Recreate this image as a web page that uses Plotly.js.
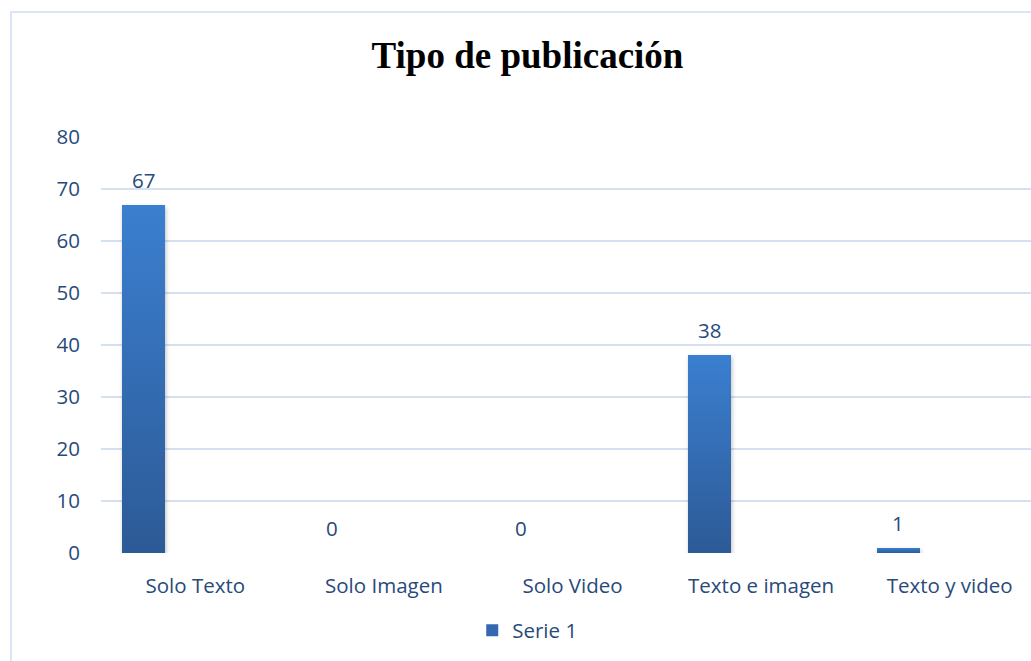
<!DOCTYPE html>
<html>
<head>
<meta charset="utf-8">
<script src="https://cdn.plot.ly/plotly-3.0.1.min.js"></script>
<style>
  html, body { margin: 0; padding: 0; overflow: hidden; background: #fff; }
  #wrap { position: relative; width: 1031px; height: 661px; overflow: hidden; }
  #chart { position: absolute; left: 0; top: 0; }
  #frame { position: absolute; left: 10px; top: 11px; width: 1100px; height: 700px;
           border: 2px solid #dae6f5; pointer-events: none; box-sizing: border-box; }
</style>
</head>
<body>
<div id="wrap">
  <div id="chart"></div>
  <div id="frame"></div>
</div>
<script>
const categories = ["Solo Texto", "Solo Imagen", "Solo Video", "Texto e imagen", "Texto y video"];
const serie1 = [67, 0, 0, 38, 1];
const seriesName = "Serie 1";
const yTicks = [0, 10, 20, 30, 40, 50, 60, 70, 80];

const textColor = "#284a7a";
const font = "'Open Sans', Lato, sans-serif";
const fs = 20.5;

const W = 1060, H = 680;
const plotL = 100.6, plotR = 1044, plotT = 136.7, plotB = 552.7;

const trace = {
  type: "bar",
  x: categories,
  y: serie1,
  name: seriesName,
  marker: { color: "#3468b0" },
  offset: -0.387,
  width: 0.228,
  hoverinfo: "x+y",
  showlegend: true
};

const annotations = categories.map((c, i) => ({
  x: c, y: serie1[i], xref: "x", yref: "y",
  text: String(serie1[i]), showarrow: false,
  xshift: -51.5, yshift: 25, yanchor: "middle",
  font: { family: font, size: fs, color: textColor }
}));

const layout = {
  width: W, height: H,
  margin: { l: plotL, r: W - plotR, t: plotT, b: H - plotB, pad: 0 },
  paper_bgcolor: "rgba(0,0,0,0)",
  plot_bgcolor: "rgba(0,0,0,0)",
  title: {
    text: "<b>Tipo de publicación</b>",
    font: { family: "'Liberation Serif', 'Times New Roman', serif", size: 37, color: "#000" },
    xref: "container", yref: "container",
    x: 527.5 / W, y: 1 - 55 / H, xanchor: "center", yanchor: "middle"
  },
  xaxis: {
    type: "category",
    showgrid: false, zeroline: false, showline: false, ticks: "",
    tickfont: { family: font, size: fs, color: textColor },
    ticklabelstandoff: 18
  },
  yaxis: {
    range: [0, 80],
    tickvals: yTicks,
    showgrid: true, gridcolor: "#d5e1f1", gridwidth: 1.5,
    zeroline: false, showline: false, ticks: "",
    tickfont: { family: font, size: fs, color: textColor },
    ticklabelstandoff: 20
  },
  showlegend: true,
  legend: {
    orientation: "h",
    x: (472 - plotL) / (plotR - plotL), xanchor: "left",
    y: (plotB - 630) / (plotB - plotT), yanchor: "middle",
    font: { family: font, size: fs, color: textColor },
    bgcolor: "rgba(0,0,0,0)"
  },
  annotations: annotations,
  bargap: 0
};

Plotly.newPlot("chart", [trace], layout, { displayModeBar: false, staticPlot: true }).then(gd => {
  const svg = gd.querySelector(".main-svg");
  let defs = svg.querySelector("defs");
  const ns = "http://www.w3.org/2000/svg";
  const lg = document.createElementNS(ns, "linearGradient");
  lg.setAttribute("id", "barGrad");
  lg.setAttribute("x1", "0"); lg.setAttribute("y1", "0");
  lg.setAttribute("x2", "0"); lg.setAttribute("y2", "1");
  [["0", "#3b7fd0"], ["1", "#2c5a96"]].forEach(([o, c]) => {
    const s = document.createElementNS(ns, "stop");
    s.setAttribute("offset", o); s.setAttribute("stop-color", c);
    lg.appendChild(s);
  });
  defs.appendChild(lg);
  gd.querySelectorAll(".bars .point path").forEach(p => {
    p.style.fill = "url(#barGrad)";
    p.style.filter = "drop-shadow(1px 2px 2px rgba(0,0,0,0.25))";
  });
});
</script>
</body>
</html>
